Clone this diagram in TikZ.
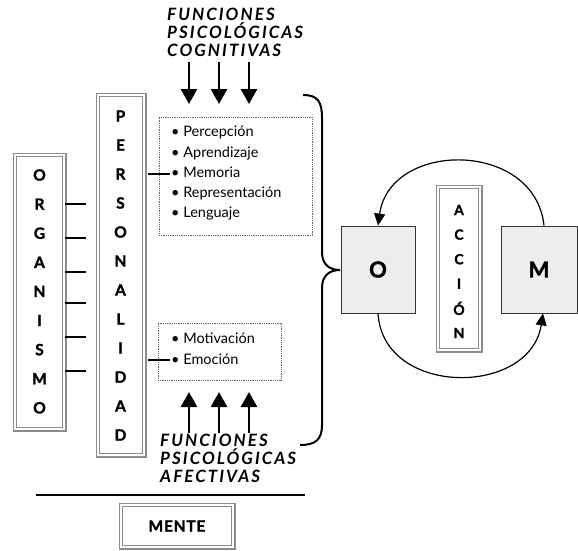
\documentclass[tikz,border=0pt]{standalone}
\usepackage{fontspec}
\setmainfont{Lato}
\newfontfamily\gruesa{Lato}[BoldFeatures={FakeBold=1.6}]
\usetikzlibrary{arrows.meta}
\tikzset{
  dframe/.style={draw=black!45, double=white, double distance=2.2pt, line width=1.1pt, inner sep=0pt},
  dotbox/.style={draw=black!60, densely dotted, line width=0.8pt, inner sep=0pt},
  letra/.style={font=\gruesa\bfseries\fontsize{15.5}{15.5}\selectfont},
  lista/.style={font=\fontsize{14.5}{20.3}\selectfont, align=left, anchor=north west, inner sep=0pt},
  titulo/.style={font=\gruesa\bfseries\itshape\addfontfeatures{LetterSpace=12}\fontsize{17}{18}\selectfont, align=left, anchor=north west, inner sep=0pt},
  link/.style={line width=2.2pt},
  fat/.style={line width=2.6pt, -{Triangle[length=15pt,width=16pt]}},
  lazo/.style={line width=1.2pt, -{Triangle[length=12pt,width=11pt]}},
  caja/.style={draw=black!80, fill=black!7, line width=0.8pt, minimum width=74pt, minimum height=87pt, font=\gruesa\bfseries\fontsize{22}{22}\selectfont}
}
\begin{document}
\begin{tikzpicture}[x=1pt,y=-1pt]
  \useasboundingbox (0,0) rectangle (578,550);
  % columnas
  \node[dframe, minimum width=49.6pt, minimum height=274.6pt] (org) at (39.5,292) {};
  \node[dframe, minimum width=46.6pt, minimum height=360.6pt] (pers) at (121,275) {};
  \foreach \l [count=\i] in {O,R,G,A,N,I,S,M,O}
    \node[letra] at (39.5,{175+29.1*(\i-1)}) {\l};
  \foreach \l [count=\i] in {P,E,R,S,O,N,A,L,I,D,A,D}
    \node[letra] at (120.5,{116+29*(\i-1)}) {\l};
  \foreach \y in {204,238,272,303,337,371}
    \draw[link] (org.east |- 0,\y) -- ++(21,0);
  % funciones
  \node[dotbox, minimum width=153pt, minimum height=118pt] (cog) at (235.5,176) {};
  \node[dotbox, minimum width=123pt, minimum height=57pt] (afe) at (219.5,351.5) {};
  \node[lista] (cogtxt) at (171,126) {• Percepción\\• Aprendizaje\\• Memoria\\• Representación\\• Lenguaje};
  \node[lista] (afetxt) at (171,333) {• Motivación\\• Emoción};
  \draw[link] ([xshift=3pt]pers.east |- 0,174) -- (170,174);
  \draw[link] ([xshift=3pt]pers.east |- 0,360) -- (170,360);
  \node[titulo] (tcog) at (167,8) {FUNCIONES\\PSICOLÓGICAS\\COGNITIVAS};
  \node[titulo] (tafe) at (160,434) {FUNCIONES\\PSICOLÓGICAS\\AFECTIVAS};
  \foreach \x in {189,219,249} {
    \draw[fat] (\x,62) -- (\x,104);
    \draw[fat] (\x,433) -- (\x,392);
  }
  % llave
  \draw[line width=2pt] (303,95) .. controls (318,95) and (322,102) .. (322,118) -- (322,252)
    .. controls (322,265) and (330,270) .. (340,270)
    .. controls (330,270) and (322,275) .. (322,288) -- (322,425)
    .. controls (322,440) and (315,445) .. (300,445);
  % accion
  \node[caja] (o) at (378,269.5) {O};
  \node[caja, minimum width=76pt] (m) at (539,269.5) {M};
  \node[dframe, minimum width=42.6pt, minimum height=163.6pt] (acc) at (459,268.5) {};
  \foreach \l [count=\i] in {A,C,C,I,Ó,N}
    \node[letra, font=\gruesa\bfseries\fontsize{14}{14}\selectfont] at (459,{210+24.6*(\i-1)}) {\l};
  \draw[lazo] (m.north -| 544,0) .. controls (535,140) and (390,140) .. (o.north);
  \draw[lazo] (o.south) .. controls (383,397) and (530,397) .. (m.south -| 543,0);
  % mente
  \draw[line width=2pt] (36,495) -- (305,495);
  \node[dframe, minimum width=112.6pt, minimum height=42.6pt, font=\gruesa\bfseries\addfontfeatures{LetterSpace=5}\fontsize{15.5}{15.5}\selectfont] (mente) at (177,526) {MENTE};
\end{tikzpicture}
\end{document}
